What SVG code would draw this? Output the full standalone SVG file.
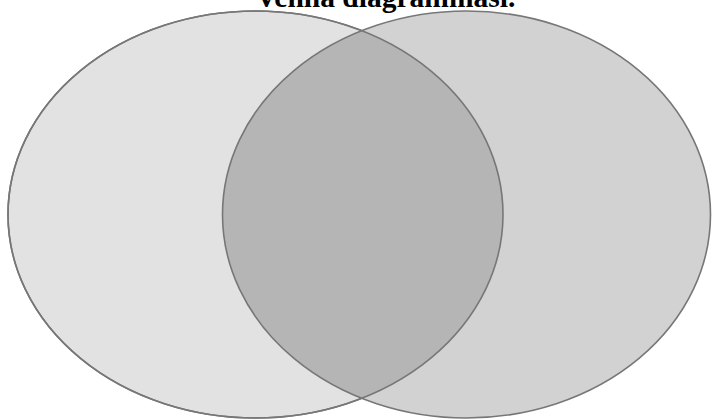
<svg xmlns="http://www.w3.org/2000/svg" width="712" height="419" viewBox="0 0 712 419">
<style>
.title{font-family:"Liberation Serif","Times New Roman",serif;font-weight:bold;font-size:29.5px;fill:#000}
.set{stroke:#777;stroke-width:1.6}
</style>
<defs>
<clipPath id="clipLeft"><ellipse cx="255.5" cy="214.5" rx="247.5" ry="203.5"/></clipPath>
</defs>
<rect width="712" height="419" fill="#fff"/>
<text class="title" x="385.5" y="7" text-anchor="middle">Venna diagrammasi.</text>
<g id="setA"><ellipse class="set" cx="255.5" cy="214.5" rx="247.5" ry="203.5" fill="#e2e2e2"/></g>
<g id="setB"><ellipse cx="466.5" cy="214.5" rx="244" ry="203.5" fill="#d2d2d2"/></g>
<g id="intersection"><ellipse cx="466.5" cy="214.5" rx="244" ry="203.5" fill="#b5b5b5" clip-path="url(#clipLeft)"/></g>
<g id="outlines" fill="none">
<ellipse class="set" cx="255.5" cy="214.5" rx="247.5" ry="203.5"/>
<ellipse class="set" cx="466.5" cy="214.5" rx="244" ry="203.5"/>
</g>
</svg>
